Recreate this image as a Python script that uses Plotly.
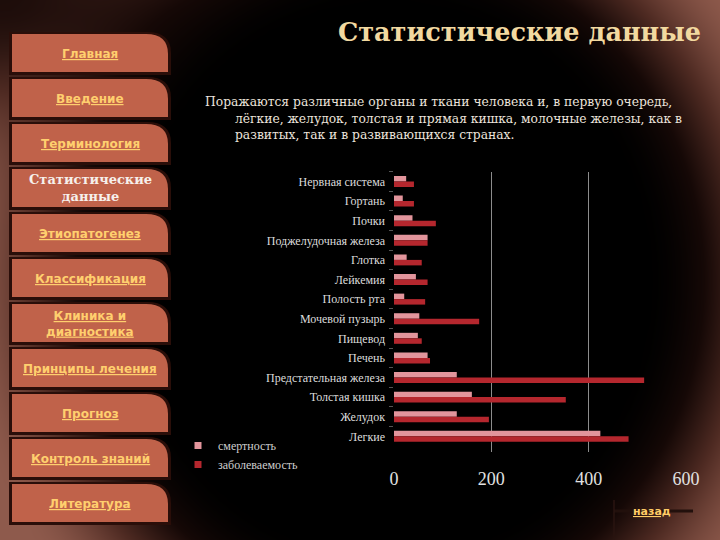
import numpy as np
import plotly.graph_objects as go

# ---------------- data ----------------
categories = ["Нервная система", "Гортань", "Почки", "Поджелудочная железа", "Глотка",
              "Лейкемия", "Полость рта", "Мочевой пузырь", "Пищевод", "Печень",
              "Предстательная железа", "Толстая кишка", "Желудок", "Легкие"]
mortality = [25, 18, 38, 69, 26, 45, 21, 52, 49, 69, 129, 160, 129, 424]
incidence = [41, 41, 86, 69, 57, 69, 64, 175, 57, 74, 514, 353, 195, 482]
series_names = ["смертность", "заболеваемость"]
series_colors = ["#e2959c", "#b5272e"]
x_ticks = [0, 200, 400, 600]

nav_labels = ["Главная", "Введение", "Терминология", "Статистические<br>данные",
              "Этиопатогенез", "Классификация", "Клиника и<br>диагностика",
              "Принципы лечения", "Прогноз", "Контроль знаний", "Литература"]
current_page = "Статистические<br>данные"
title_text = "Статистические данные"
paragraph_lines = ["Поражаются различные органы и ткани человека и, в первую очередь,",
                   "лёгкие, желудок, толстая и прямая кишка, молочные железы, как в",
                   "развитых, так и в развивающихся странах."]
back_text = "назад"

W, H = 720, 540


def px(x):
    return x / W


def py(y):
    return 1 - y / H


fig = go.Figure()

# ---------------- background vignette ----------------
gx = np.arange(0, W + 1, 10)
gy = np.arange(0, H + 1, 10)
XX, YY = np.meshgrid(gx, gy)
r = np.sqrt(((XX - 390) / 300.0) ** 2 + ((YY - 280) / 320.0) ** 2)
t = np.clip((r - 0.85) / 0.6, 0, 1)
v = t * t * (3 - 2 * t)
dark_tl = 1 - 0.7 * np.exp(-((XX / 230.0) ** 2 + (YY / 120.0) ** 2))
z = v * dark_tl
fig.add_trace(go.Heatmap(x=gx, y=gy, z=z, zmin=0, zmax=1, zsmooth="best",
                         colorscale=[[0, "#000000"], [0.25, "#150806"], [0.6, "#4e2a22"],
                                     [1, "#8e5a4c"]],
                         showscale=False, hoverinfo="skip", xaxis="x", yaxis="y",
                         showlegend=False))

# ---------------- bars ----------------
for vals, name, col in [(mortality, series_names[0], series_colors[0]),
                        (incidence, series_names[1], series_colors[1])]:
    fig.add_trace(go.Bar(y=categories, x=vals, name=name, orientation="h",
                         marker=dict(color=col, line=dict(width=0)),
                         xaxis="x2", yaxis="y2", showlegend=False, legendgroup=name))
# small square legend keys
for name, col in zip(series_names, series_colors):
    fig.add_trace(go.Scatter(x=[None], y=[None], mode="markers", name=name,
                             marker=dict(symbol="square", size=7, color=col),
                             xaxis="x2", yaxis="y2", legendgroup=name, showlegend=True))

# ---------------- nav buttons ----------------
shapes = []
annotations = []
left, right = 12, 168
bh, pitch, top0 = 38, 45, 34
rx, ry = 22, 20


def tab_path(x0, x1, y0, y1, rx, ry):
    return (f"M{px(x0)},{py(y1)} L{px(x0)},{py(y0)} L{px(x1 - rx)},{py(y0)} "
            f"Q{px(x1)},{py(y0)} {px(x1)},{py(y0 + ry)} L{px(x1)},{py(y1)} Z")


for i, lab in enumerate(nav_labels):
    top = top0 + pitch * i
    bot = top + bh
    shapes.append(dict(type="path", xref="paper", yref="paper",
                       path=tab_path(left - 3, right + 3, top - 2, bot + 3, rx + 2, ry + 1),
                       fillcolor="#2a0e09", line=dict(width=0), layer="above"))
    shapes.append(dict(type="path", xref="paper", yref="paper",
                       path=tab_path(left, right, top, bot, rx, ry),
                       fillcolor="#c0624a", line=dict(width=0), layer="above"))
    if lab == current_page:
        annotations.append(dict(text=lab, x=px(90), y=py(top + bh / 2), xref="paper", yref="paper",
                                showarrow=False, xanchor="center", yanchor="middle",
                                font=dict(family="DejaVu Serif", size=13, color="#f6f0ec",
                                          weight="bold")))
    else:
        annotations.append(dict(text=f"<u>{lab}</u>", x=px(90), y=py(top + bh / 2 + 1),
                                xref="paper", yref="paper",
                                showarrow=False, xanchor="center", yanchor="middle",
                                font=dict(family="DejaVu Sans", size=12, color="#ffcf6e",
                                          weight="bold")))

# back link decoration
shapes.append(dict(type="line", xref="paper", yref="paper", x0=px(614), x1=px(693),
                   y0=py(511), y1=py(511), line=dict(color="#22100c", width=3), layer="above"))
shapes.append(dict(type="line", xref="paper", yref="paper", x0=px(614), x1=px(614),
                   y0=py(500), y1=py(540), line=dict(color="#2a1510", width=1.5), layer="above"))
annotations.append(dict(text=f"<u>{back_text}</u>", x=px(652), y=py(511), xref="paper", yref="paper",
                        showarrow=False, xanchor="center", yanchor="middle",
                        font=dict(family="DejaVu Sans", size=11, color="#ffcc66", weight="bold")))

# title
annotations.append(dict(text=title_text, x=px(703), y=py(32), xref="paper", yref="paper",
                        showarrow=False, xanchor="right", yanchor="middle",
                        font=dict(family="DejaVu Serif", size=25.5, color="#f2d9a0", weight="bold")))

# paragraph
para_pos = [(203, 102), (233, 118.5), (233, 135)]
for line, (lx, ly) in zip(paragraph_lines, para_pos):
    annotations.append(dict(text=line, x=px(lx), y=py(ly), xref="paper", yref="paper",
                            showarrow=False, xanchor="left", yanchor="middle",
                            font=dict(family="DejaVu Serif", size=12.3, color="#ece4dc")))

fig.update_layout(
    width=W, height=H, margin=dict(l=0, r=0, t=0, b=0, autoexpand=False),
    paper_bgcolor="#000000", plot_bgcolor="rgba(0,0,0,0)",
    barmode="group", bargap=0.44, bargroupgap=0,
    showlegend=True,
    legend=dict(x=px(178), y=py(431), xanchor="left", yanchor="top",
                bgcolor="rgba(0,0,0,0)", font=dict(family="Liberation Serif", size=12, color="#cfcfcf"),
                itemwidth=30, tracegroupgap=0),
    xaxis=dict(domain=[0, 1], range=[0, W], visible=False, fixedrange=True, automargin=False),
    yaxis=dict(domain=[0, 1], range=[H, 0], visible=False, fixedrange=True, automargin=False),
    xaxis2=dict(domain=[px(394), px(686)], range=[0, 600], anchor="y2", automargin=False,
                tickvals=x_ticks, ticktext=[str(v) for v in x_ticks],
                showgrid=True, gridcolor="#8c8c8c", gridwidth=1,
                zeroline=True, zerolinecolor="rgba(0,0,0,0)", showline=False,
                ticks="", ticklabelstandoff=14,
                tickfont=dict(family="Liberation Serif", size=18, color="#e2e2e2")),
    yaxis2=dict(domain=[py(452), py(171.7)], anchor="x2", type="category", automargin=False,
                categoryorder="array", categoryarray=categories,
                range=[13.8, -0.5], showgrid=False, zeroline=False, showline=False,
                ticks="outside", tickson="boundaries", ticklen=4, tickcolor="#555555",
                ticklabelstandoff=8,
                tickfont=dict(family="Liberation Serif", size=12, color="#dcdcdc")),
    shapes=shapes, annotations=annotations,
)

fig.write_html("out.html", config={"displayModeBar": False},
               post_script="document.body.style.margin='0';document.body.style.overflow='hidden';")
